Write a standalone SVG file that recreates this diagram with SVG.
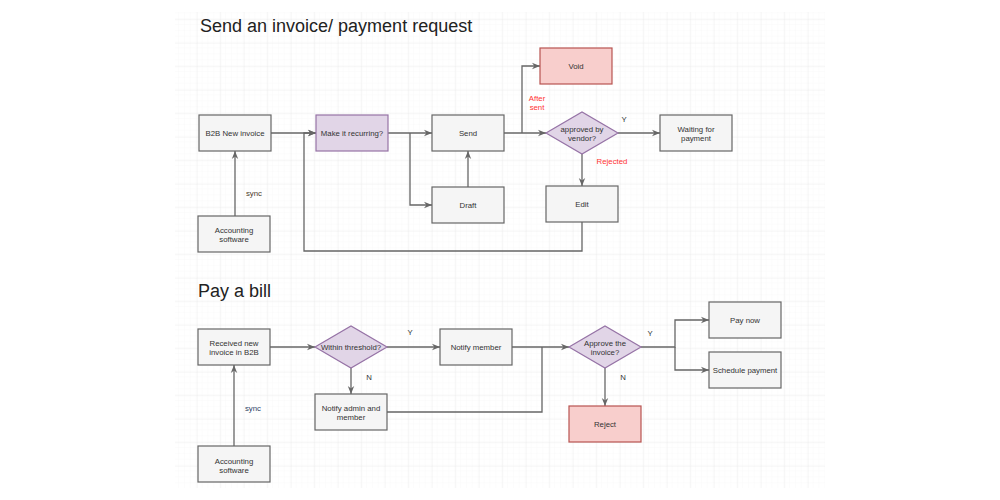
<svg xmlns="http://www.w3.org/2000/svg" width="1000" height="500" viewBox="0 0 1000 500">
<style>
.box{fill:#f5f5f5;stroke:#666666;stroke-width:1.2}
.purple{fill:#e1d5e7;stroke:#9673a6;stroke-width:1.2}
.red{fill:#f8cecc;stroke:#b85450;stroke-width:1.2}
.t{font-family:"Liberation Sans",Arial,sans-serif;font-size:7.8px;fill:#333333;text-anchor:middle}
.lbl{font-family:"Liberation Sans",Arial,sans-serif;font-size:7.8px;fill:#333333;text-anchor:middle}
.rl{font-family:"Liberation Sans",Arial,sans-serif;font-size:7.8px;fill:#ff3333;text-anchor:middle}
.title{font-family:"Liberation Sans",Arial,sans-serif;font-size:18px;fill:#222222}
.c{fill:none;stroke:#666666;stroke-width:1.3}
.a{marker-end:url(#arr)}
</style>
<defs>
<pattern id="minor" width="5.875" height="5.875" patternUnits="userSpaceOnUse" x="2.8" y="1.45">
<path d="M5.875,0 V5.875 M0,5.875 H5.875" fill="none" stroke="#f4f4f4" stroke-width="0.6"/>
</pattern>
<pattern id="major" width="23.5" height="23.5" patternUnits="userSpaceOnUse" x="8.7" y="19.2">
<path d="M0,0 V23.5 M0,0 H23.5" fill="none" stroke="#e6e6e6" stroke-width="0.7"/>
</pattern>
<marker id="arr" viewBox="0 0 10 10" refX="10" refY="5" markerWidth="8" markerHeight="8" markerUnits="userSpaceOnUse" orient="auto">
<path d="M0,1 L10,5 L0,9 L3,5 Z" fill="#666666"/>
</marker>
</defs>
<rect width="1000" height="500" fill="#ffffff"/>
<rect x="175" y="12" width="650" height="476" fill="url(#minor)"/>
<rect x="175" y="12" width="650" height="476" fill="url(#major)"/>

<text class="title" x="200" y="31.5">Send an invoice/ payment request</text>
<text class="title" x="198" y="296.5">Pay a bill</text>

<g id="connectors">
<path class="c a" d="M271,133 H316"/>
<path class="c a" d="M582,222 V251 H304 V133 H316"/>
<path class="c a" d="M388,133 H432"/>
<path class="c a" d="M410,133 V205 H432"/>
<path class="c a" d="M468,187 V151"/>
<path class="c a" d="M235,216 V151"/>
<path class="c a" d="M504,133 H546"/>
<path class="c a" d="M522,133 V66 H540"/>
<path class="c a" d="M618,133 H660"/>
<path class="c a" d="M582,154 V186"/>
<text class="lbl" x="254" y="196" style="fill:#4a3a2a">sync</text>
<text class="rl" x="537" y="101">After</text>
<text class="rl" x="537" y="110">sent</text>
<text class="lbl" x="624" y="122">Y</text>
<text class="rl" x="612" y="164">Rejected</text>

<path class="c a" d="M234,446 V365"/>
<path class="c a" d="M270,347 H315"/>
<path class="c a" d="M387,347 H440"/>
<path class="c a" d="M351,368 V394"/>
<path class="c a" d="M512,347 H569"/>
<path class="c" d="M387,412 H542 V347"/>
<path class="c a" d="M641,347 H675 V320 H709"/>
<path class="c a" d="M675,347 V370 H709"/>
<path class="c a" d="M605,368 V406"/>
<text class="lbl" x="253" y="410.5" style="fill:#2e3f66">sync</text>
<text class="lbl" x="410" y="335">Y</text>
<text class="lbl" x="369" y="380">N</text>
<text class="lbl" x="650" y="336">Y</text>
<text class="lbl" x="623" y="380">N</text>
</g>

<g id="b2b-new-invoice"><rect class="box" x="199" y="115" width="72" height="36"/><text class="t" x="235" y="135.8">B2B New invoice</text></g>
<g id="make-recurring"><rect class="purple" x="316" y="115" width="72" height="36"/><text class="t" x="352" y="135.8">Make it recurring?</text></g>
<g id="send"><rect class="box" x="432" y="115" width="72" height="36"/><text class="t" x="468" y="135.8">Send</text></g>
<g id="draft"><rect class="box" x="432" y="187" width="72" height="36"/><text class="t" x="468" y="207.8">Draft</text></g>
<g id="accounting-1"><rect class="box" x="198" y="216" width="72" height="36"/><text class="t" x="234" y="232.5">Accounting</text><text class="t" x="234" y="241.5">software</text></g>
<g id="void"><rect class="red" x="540" y="48" width="72" height="36"/><text class="t" x="576" y="68.8">Void</text></g>
<g id="approved-by-vendor"><polygon class="purple" points="546,133 582,112 618,133 582,154"/><text class="t" x="582" y="131.8">approved by</text><text class="t" x="582" y="140.8">vendor?</text></g>
<g id="waiting-for-payment"><rect class="box" x="660" y="115" width="72" height="36"/><text class="t" x="696" y="131.8">Waiting for</text><text class="t" x="696" y="140.8">payment</text></g>
<g id="edit"><rect class="box" x="546" y="186" width="72" height="36"/><text class="t" x="582" y="206.8">Edit</text></g>

<g id="received-invoice"><rect class="box" x="198" y="329" width="72" height="36"/><text class="t" x="234" y="345.5">Received new</text><text class="t" x="234" y="354.5">invoice in B2B</text></g>
<g id="accounting-2"><rect class="box" x="198" y="446" width="72" height="36"/><text class="t" x="234" y="463.8">Accounting</text><text class="t" x="234" y="472.8">software</text></g>
<g id="within-threshold"><polygon class="purple" points="315,347 351,326 387,347 351,368"/><text class="t" x="351" y="349.8">Within threshold?</text></g>
<g id="notify-member"><rect class="box" x="440" y="329" width="72" height="36"/><text class="t" x="476" y="349.8">Notify member</text></g>
<g id="notify-admin"><rect class="box" x="315" y="394" width="72" height="36"/><text class="t" x="351" y="411.1">Notify admin and</text><text class="t" x="351" y="420.1">member</text></g>
<g id="approve-invoice"><polygon class="purple" points="569,347 605,326 641,347 605,368"/><text class="t" x="605" y="345.8">Approve the</text><text class="t" x="605" y="354.5">invoice?</text></g>
<g id="pay-now"><rect class="box" x="709" y="302" width="72" height="36"/><text class="t" x="745" y="322.8">Pay now</text></g>
<g id="schedule-payment"><rect class="box" x="709" y="352" width="72" height="36"/><text class="t" x="745" y="372.8">Schedule payment</text></g>
<g id="reject"><rect class="red" x="569" y="406" width="72" height="36"/><text class="t" x="605" y="426.8">Reject</text></g>
</svg>
